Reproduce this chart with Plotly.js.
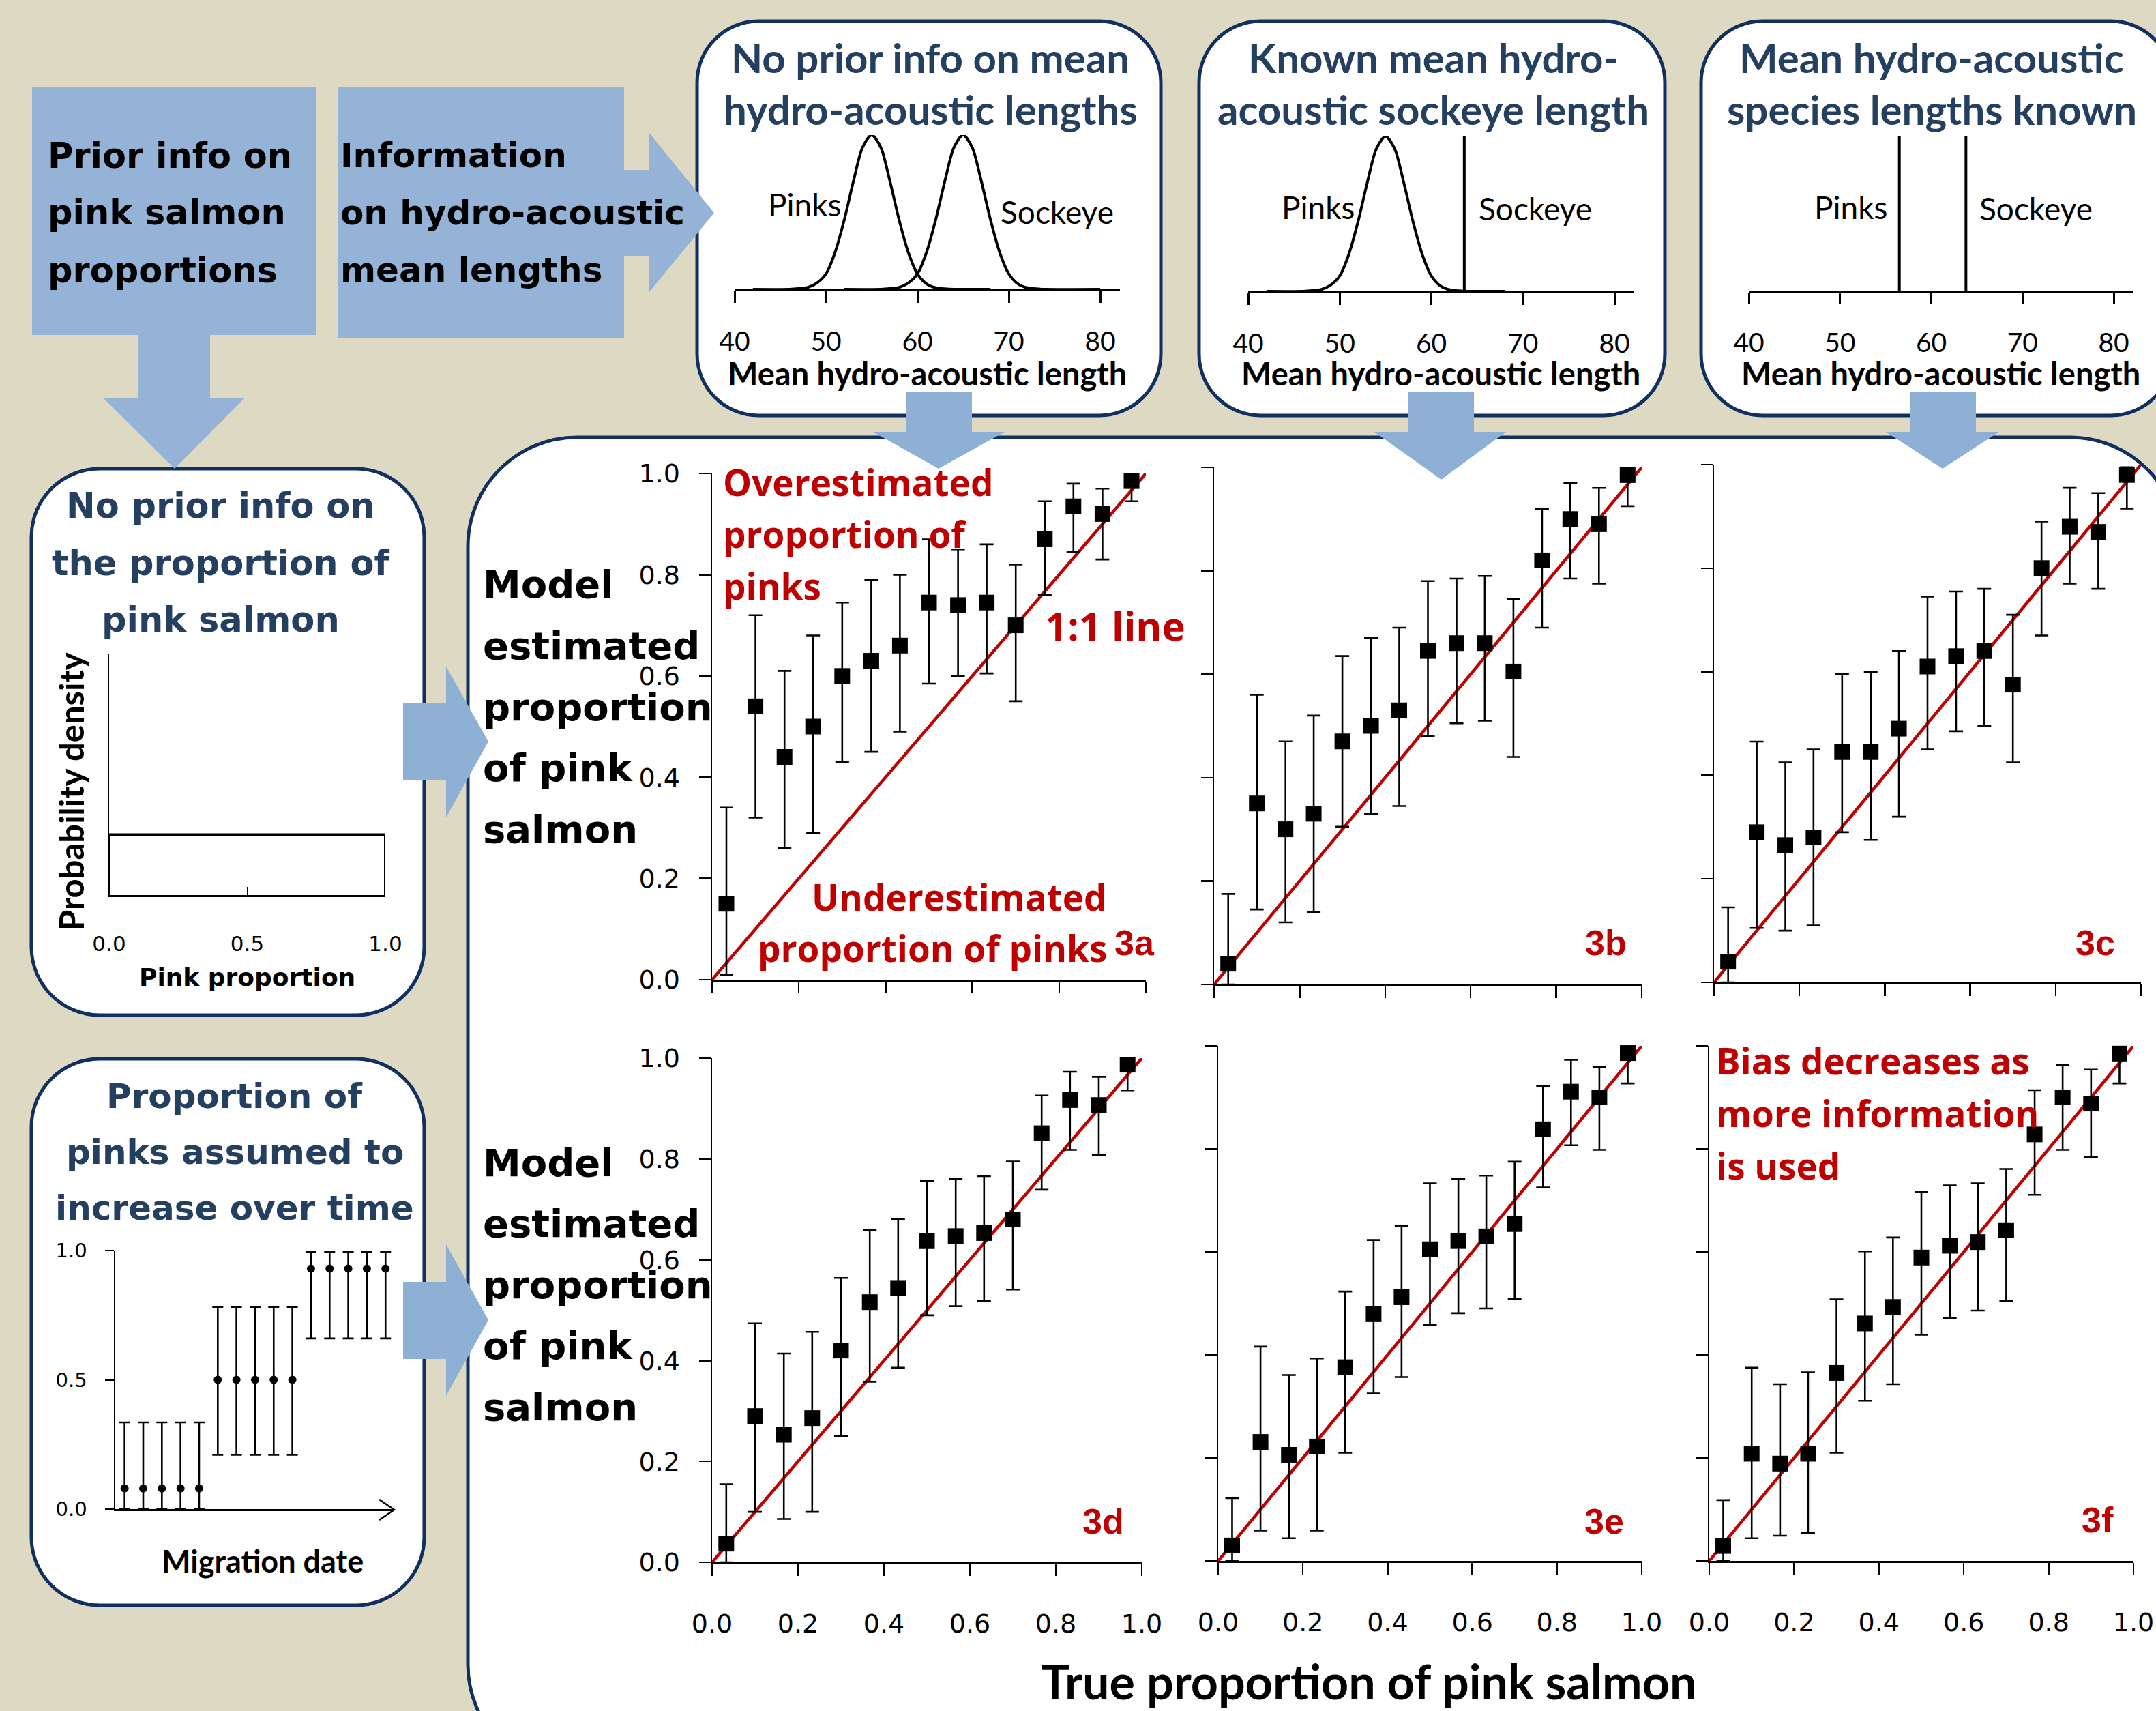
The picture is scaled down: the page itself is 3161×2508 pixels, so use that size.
<!DOCTYPE html>
<html><head><meta charset="utf-8">
<script src="https://cdn.plot.ly/plotly-3.0.1.min.js"></script>
<style>html,body{margin:0;padding:0;background:#DDD9C3;} #chart{width:3161px;height:2508px;}</style>
</head><body><div id="chart"></div>
<script>
// ---------------- DATA ----------------
const trueProp = [0.033,0.100,0.167,0.233,0.300,0.367,0.433,0.500,0.567,0.633,0.700,0.767,0.833,0.900,0.967];

const est3a = [0.15,0.54,0.44,0.50,0.60,0.63,0.66,0.745,0.74,0.745,0.70,0.87,0.935,0.92,0.985];
const hi3a  = [0.34,0.72,0.61,0.68,0.745,0.79,0.80,0.87,0.85,0.86,0.82,0.945,0.98,0.97,1.0];
const lo3a  = [0.01,0.32,0.26,0.29,0.43,0.45,0.49,0.585,0.60,0.605,0.55,0.76,0.845,0.83,0.945];

const est3b = [0.04,0.35,0.30,0.33,0.47,0.50,0.53,0.645,0.66,0.66,0.605,0.82,0.90,0.89,0.985];
const hi3b  = [0.175,0.56,0.47,0.52,0.635,0.67,0.69,0.78,0.785,0.79,0.745,0.92,0.97,0.96,1.0];
const lo3b  = [0.0,0.145,0.12,0.14,0.305,0.33,0.345,0.48,0.505,0.51,0.44,0.69,0.785,0.775,0.925];

const est3c = [0.04,0.29,0.265,0.28,0.445,0.445,0.49,0.61,0.63,0.64,0.575,0.80,0.88,0.87,0.98];
const hi3c  = [0.145,0.465,0.425,0.45,0.595,0.60,0.64,0.745,0.755,0.76,0.71,0.89,0.955,0.945,0.995];
const lo3c  = [0.0,0.105,0.10,0.11,0.29,0.275,0.32,0.45,0.485,0.495,0.425,0.67,0.77,0.76,0.915];

const est3d = [0.037,0.29,0.253,0.286,0.42,0.516,0.544,0.637,0.647,0.653,0.68,0.851,0.917,0.907,0.987];
const hi3d  = [0.155,0.474,0.414,0.457,0.564,0.659,0.681,0.757,0.761,0.766,0.795,0.926,0.973,0.963,1.0];
const lo3d  = [0.0,0.10,0.086,0.10,0.25,0.358,0.386,0.49,0.508,0.518,0.541,0.739,0.818,0.808,0.936];

const est3e = [0.03,0.231,0.206,0.222,0.376,0.479,0.512,0.605,0.621,0.63,0.654,0.838,0.911,0.90,0.986];
const hi3e  = [0.122,0.416,0.361,0.393,0.523,0.623,0.65,0.733,0.742,0.748,0.775,0.922,0.973,0.959,1.0];
const lo3e  = [0.0,0.059,0.044,0.059,0.21,0.325,0.357,0.458,0.481,0.49,0.509,0.725,0.807,0.798,0.927];

const est3f = [0.029,0.208,0.189,0.208,0.365,0.461,0.493,0.589,0.612,0.619,0.642,0.828,0.90,0.888,0.985];
const hi3f  = [0.118,0.375,0.343,0.366,0.508,0.601,0.628,0.716,0.729,0.733,0.761,0.914,0.963,0.954,1.0];
const lo3f  = [0.0,0.044,0.049,0.054,0.21,0.311,0.343,0.439,0.472,0.486,0.505,0.711,0.798,0.784,0.927];

const oneToOneX = [0, 1];
const oneToOneY = [0, 1];
const propTickVals = [0, 0.2, 0.4, 0.6, 0.8, 1.0];
const propTickText = ['0.0','0.2','0.4','0.6','0.8','1.0'];
const panelLabels = ['3a','3b','3c','3d','3e','3f'];

// mini charts: hydro-acoustic lengths
const lengthTicks = [40, 50, 60, 70, 80];
const pinkLen  = [42,46,47,48,49,50,51,52,53,54,55,56,57,58,59,60,61,62,63,64,68];
const pinkDens = [0,0,0.004,0.012,0.04,0.10,0.24,0.45,0.70,0.92,1.0,0.92,0.70,0.45,0.24,0.10,0.035,0.01,0.003,0,0];
const sockLen  = [52,56,57,58,59,60,61,62,63,64,65,66,67,68,69,70,71,72,73,74,80];
const sockDens = [0,0,0.004,0.012,0.04,0.10,0.24,0.45,0.70,0.92,1.0,0.92,0.70,0.45,0.24,0.10,0.035,0.01,0.003,0,0];
const sockKnownB = 63.6, lineTopB = 1.04;
const pinkKnownC = 56.5, sockKnownC = 63.8, lineTopC = 1.045;

// uniform prior
const uniformX = [0, 0, 1, 1];
const uniformY = [0, 1, 1, 0];
const uniformTicks = [0, 0.5, 1.0];
const uniformTickText = ['0.0','0.5','1.0'];

// migration date prior
const migDate = [1,2,3,4,5,6,7,8,9,10,11,12,13,14,15];
const migProp = [0.08,0.08,0.08,0.08,0.08,0.5,0.5,0.5,0.5,0.5,0.93,0.93,0.93,0.93,0.93];
const migHi   = [0.335,0.335,0.335,0.335,0.335,0.78,0.78,0.78,0.78,0.78,0.995,0.995,0.995,0.995,0.995];
const migLo   = [0,0,0,0,0,0.21,0.21,0.21,0.21,0.21,0.66,0.66,0.66,0.66,0.66];
const migTicks = [0, 0.5, 1.0];
const migTickText = ['0.0','0.5','1.0'];

// ---------------- HELPERS ----------------
const W = 3161, H = 2508;
const fx = p => p / W;
const fy = p => 1 - p / H;
const P = (x, y) => fx(x).toFixed(5) + ',' + fy(y).toFixed(5);
function rr(x0, y0, x1, y1, r) {
  const k = 0.5523 * r;
  return 'M' + P(x0 + r, y0) + ' L' + P(x1 - r, y0) +
    ' C' + P(x1 - r + k, y0) + ' ' + P(x1, y0 + r - k) + ' ' + P(x1, y0 + r) +
    ' L' + P(x1, y1 - r) +
    ' C' + P(x1, y1 - r + k) + ' ' + P(x1 - r + k, y1) + ' ' + P(x1 - r, y1) +
    ' L' + P(x0 + r, y1) +
    ' C' + P(x0 + r - k, y1) + ' ' + P(x0, y1 - r + k) + ' ' + P(x0, y1 - r) +
    ' L' + P(x0, y0 + r) +
    ' C' + P(x0, y0 + r - k) + ' ' + P(x0 + r - k, y0) + ' ' + P(x0 + r, y0) + ' Z';
}
function poly(pts) { return 'M' + pts.map(p => P(p[0], p[1])).join(' L') + ' Z'; }

const NAVY = '#12305F', TITLE = '#243F60', BLUE = '#95B3D7', ARROW = '#8DB0D4', RED = '#C00000';
const fV = 'DejaVu Sans', fC = 'Lato', fS = 'Open Sans', fA = 'Liberation Sans';

const layout = {
  width: W, height: H, margin: {l: 0, r: 0, t: 0, b: 0},
  paper_bgcolor: '#DDD9C3', plot_bgcolor: 'rgba(0,0,0,0)',
  showlegend: false, hovermode: false,
  shapes: [], annotations: []
};
const traces = [];
let nAx = 0;
function addAxes(xd, yd, xopt, yopt) {
  nAx++;
  const s = nAx === 1 ? '' : String(nAx);
  layout['xaxis' + s] = Object.assign({domain: [fx(xd[0]), fx(xd[1])], anchor: 'y' + s,
    showgrid: false, zeroline: false, fixedrange: true}, xopt);
  layout['yaxis' + s] = Object.assign({domain: [fy(yd[0]), fy(yd[1])], anchor: 'x' + s,
    showgrid: false, zeroline: false, fixedrange: true}, yopt);
  return {x: 'x' + s, y: 'y' + s};
}
function T(text, x, y, font, xanchor, extra) {
  return Object.assign({xref: 'paper', yref: 'paper', x: fx(x), y: fy(y), text: text,
    showarrow: false, xanchor: xanchor || 'center', yanchor: 'middle', font: font}, extra || {});
}

// ---------------- SHAPES (boxes & arrows) ----------------
const boxStyle = {type: 'path', xref: 'paper', yref: 'paper', fillcolor: 'white', line: {color: NAVY, width: 5}, layer: 'below'};
[[1022,31,1702,609,90],[1758,31,2441,609,90],[2494,31,3185,609,90],
 [46,687,622,1488,100],[46,1552,622,2353,100],[686,641,3195,2600,160]].forEach(b => {
  layout.shapes.push(Object.assign({}, boxStyle, {path: rr(b[0], b[1], b[2], b[3], b[4])}));
});
const fillStyle = (c) => ({type: 'path', xref: 'paper', yref: 'paper', fillcolor: c, line: {width: 0}, layer: 'below'});
layout.shapes.push(Object.assign(fillStyle(BLUE), {path: poly([[47,127],[463,127],[463,491],[308,491],[308,584],[358,584],[256,687],[152,584],[203,584],[203,491],[47,491]])}));
layout.shapes.push(Object.assign(fillStyle(BLUE), {path: poly([[495,127],[915,127],[915,249],[952,249],[952,195],[1047,312],[952,428],[952,375],[915,375],[915,495],[495,495]])}));
// down arrows into results
[[1328,1425,1280,1473,1376,687],[2064,2161,2015,2208,2113,703],[2800,2897,2765,2931,2848,687]].forEach(a => {
  layout.shapes.push(Object.assign(fillStyle(ARROW), {path: poly([[a[0],575],[a[1],575],[a[1],633],[a[3],633],[a[4],a[5]],[a[2],633],[a[0],633]])}));
});
// right arrows into results
[[1031,1143,977,1198,1087],[1879,1992,1824,2046,1935]].forEach(a => {
  layout.shapes.push(Object.assign(fillStyle(ARROW), {path: poly([[591,a[0]],[654,a[0]],[654,a[2]],[716,a[4]],[654,a[3]],[654,a[1]],[591,a[1]]])}));
});
// arrowhead on migration-date axis
layout.shapes.push({type: 'path', xref: 'paper', yref: 'paper', layer: 'above',
  path: 'M' + P(556, 2198) + ' L' + P(578, 2213) + ' L' + P(556, 2228), line: {color: 'black', width: 2.5}});

// ---------------- MAIN PANELS ----------------
const panels = [
  {xd: [1044, 1680], yd: [1436, 694], est: est3a, hi: hi3a, lo: lo3a, ylab: true,  xlab: false, lab: [1663, 1382]},
  {xd: [1780, 2407], yd: [1443, 685], est: est3b, hi: hi3b, lo: lo3b, ylab: false, xlab: false, lab: [2354, 1382]},
  {xd: [2513, 3139], yd: [1440, 681], est: est3c, hi: hi3c, lo: lo3c, ylab: false, xlab: false, lab: [3072, 1382]},
  {xd: [1044, 1674], yd: [2290, 1551], est: est3d, hi: hi3d, lo: lo3d, ylab: true,  xlab: true,  lab: [1617, 2230]},
  {xd: [1786, 2407], yd: [2288, 1533], est: est3e, hi: hi3e, lo: lo3e, ylab: false, xlab: true,  lab: [2352, 2230]},
  {xd: [2506, 3128], yd: [2288, 1533], est: est3f, hi: hi3f, lo: lo3f, ylab: false, xlab: true,  lab: [3075, 2228]}
];
const axBase = {range: [0, 1], showline: true, linecolor: 'black', linewidth: 2.5, ticks: 'outside',
  ticklen: 17, tickwidth: 2.5, tickcolor: 'black', tickvals: propTickVals, ticktext: propTickText,
  tickfont: {family: fV, size: 38, color: 'black'}};
panels.forEach((p, i) => {
  const ax = addAxes(p.xd, p.yd,
    Object.assign({}, axBase, {showticklabels: p.xlab, ticklabelstandoff: 38}),
    Object.assign({}, axBase, {showticklabels: p.ylab, ticklabelstandoff: 20}));
  traces.push({type: 'scatter', mode: 'lines', x: oneToOneX, y: oneToOneY, xaxis: ax.x, yaxis: ax.y,
    line: {color: RED, width: 4.5}, cliponaxis: false});
  traces.push({type: 'scatter', mode: 'markers', x: trueProp, y: p.est, xaxis: ax.x, yaxis: ax.y,
    marker: {symbol: 'square', size: 23, color: 'black'}, cliponaxis: false,
    error_y: {type: 'data', symmetric: false, array: p.hi.map((h, j) => h - p.est[j]),
      arrayminus: p.lo.map((l, j) => p.est[j] - l), color: 'black', thickness: 2.6, width: 10}});
  layout.annotations.push(T(panelLabels[i], p.lab[0], p.lab[1], {family: fA, size: 52, color: RED, weight: 700}));
});

// ---------------- TOP MINI CHARTS ----------------
const miniX = (r) => ({range: r, showline: true, linecolor: 'black', linewidth: 3, ticks: 'outside', ticklen: 17,
  tickwidth: 3, tickcolor: 'black', tickvals: lengthTicks, ticktext: lengthTicks.map(String),
  tickfont: {family: fC, size: 39, color: 'black'}, ticklabelstandoff: 23});
const miniY = {range: [0, 1], showline: false, showticklabels: false, ticks: ''};
const curveLine = {color: 'black', width: 4, shape: 'spline', smoothing: 0.8};

const mA = addAxes([1077, 1642], [424, 198], miniX([40, 82.16]), miniY);
traces.push({type: 'scatter', mode: 'lines', x: pinkLen, y: pinkDens, xaxis: mA.x, yaxis: mA.y, line: curveLine, cliponaxis: false});
traces.push({type: 'scatter', mode: 'lines', x: sockLen, y: sockDens, xaxis: mA.x, yaxis: mA.y, line: curveLine, cliponaxis: false});

const mB = addAxes([1830, 2396], [427, 200], miniX([40, 82.16]), miniY);
traces.push({type: 'scatter', mode: 'lines', x: pinkLen, y: pinkDens, xaxis: mB.x, yaxis: mB.y, line: curveLine, cliponaxis: false});
traces.push({type: 'scatter', mode: 'lines', x: [sockKnownB, sockKnownB], y: [0, lineTopB], xaxis: mB.x, yaxis: mB.y, line: {color: 'black', width: 4}, cliponaxis: false});

const mC = addAxes([2564, 3127], [426, 199], miniX([40, 82.09]), miniY);
traces.push({type: 'scatter', mode: 'lines', x: [pinkKnownC, pinkKnownC], y: [0, lineTopC], xaxis: mC.x, yaxis: mC.y, line: {color: 'black', width: 4}, cliponaxis: false});
traces.push({type: 'scatter', mode: 'lines', x: [sockKnownC, sockKnownC], y: [0, lineTopC], xaxis: mC.x, yaxis: mC.y, line: {color: 'black', width: 4}, cliponaxis: false});

// ---------------- LEFT MINI CHARTS ----------------
const mD = addAxes([160, 565], [1312, 958],
  {range: [0, 1], showline: true, linecolor: 'black', linewidth: 2.5, ticks: 'inside', ticklen: 12, tickwidth: 2,
   tickcolor: 'black', tickvals: uniformTicks, ticktext: uniformTickText, tickfont: {family: fV, size: 31, color: 'black'}, ticklabelstandoff: 42},
  {range: [0, 4], showline: true, linecolor: 'black', linewidth: 2, ticks: '', showticklabels: false});
traces.push({type: 'scatter', mode: 'lines', x: uniformX, y: uniformY, xaxis: mD.x, yaxis: mD.y, line: {color: 'black', width: 4}, cliponaxis: false});

const mE = addAxes([169, 577], [2212, 1833],
  {range: [0.5, 15.43], showline: true, linecolor: 'black', linewidth: 2.5, ticks: '', showticklabels: false},
  {range: [0, 1], showline: true, linecolor: 'black', linewidth: 2.5, ticks: 'outside', ticklen: 13, tickwidth: 2,
   tickcolor: 'black', tickvals: migTicks, ticktext: migTickText, tickfont: {family: fV, size: 29, color: 'black'}, ticklabelstandoff: 20});
traces.push({type: 'scatter', mode: 'markers', x: migDate, y: migProp, xaxis: mE.x, yaxis: mE.y, cliponaxis: false,
  marker: {symbol: 'circle', size: 12, color: 'black'},
  error_y: {type: 'data', symmetric: false, array: migHi.map((h, j) => h - migProp[j]),
    arrayminus: migLo.map((l, j) => migProp[j] - l), color: 'black', thickness: 2.6, width: 8}});

// ---------------- TEXT ----------------
const A = layout.annotations;
const boxFont = {family: fV, size: 51, color: 'black', weight: 700};
['Prior info on', 'pink salmon', 'proportions'].forEach((t, i) => A.push(T(t, 68, 228 + i * 84, boxFont, 'left')));
['Information', 'on hydro-acoustic', 'mean lengths'].forEach((t, i) => A.push(T(t, 497, 228 + i * 84, Object.assign({}, boxFont, {size: 50}), 'left')));

const topTitle = {family: fC, size: 60, color: TITLE, weight: 700};
[['No prior info on mean', 'hydro-acoustic lengths', 1364],
 ['Known mean hydro-', 'acoustic sockeye length', 2101],
 ['Mean hydro-acoustic', 'species lengths known', 2832]].forEach(b => {
  A.push(T(b[0], b[2], 84, topTitle));
  A.push(T(b[1], b[2], 160, topTitle));
});
const spFont = {family: fC, size: 46, color: 'black'};
[['Pinks', 1179, 299], ['Sockeye', 1550, 311], ['Pinks', 1932, 303], ['Sockeye', 2251, 305],
 ['Pinks', 2713, 303], ['Sockeye', 2985, 305]].forEach(s => A.push(T(s[0], s[1], s[2], spFont)));
const lenTitle = {family: fC, size: 47, color: 'black', weight: 700};
[1359, 2112, 2845].forEach(cx => A.push(T('Mean hydro-acoustic length', cx, 547, lenTitle)));

const leftTitle = {family: fV, size: 51, color: TITLE, weight: 700};
['No prior info on', 'the proportion of', 'pink salmon'].forEach((t, i) => A.push(T(t, 323, 742 + i * 83, leftTitle)));
['Proportion of', 'pinks assumed to', 'increase over time'].forEach((t, i) => A.push(T(t, 344, 1607 + i * 82, Object.assign({}, leftTitle, {size: 50}))));
A.push(T('Probability density', 104, 1160, {family: fC, size: 49, color: 'black', weight: 700}, 'center', {textangle: -90}));
A.push(T('Pink proportion', 362, 1432, {family: fV, size: 36, color: 'black', weight: 700}));
A.push(T('Migration date', 385, 2288, {family: fC, size: 45, color: 'black', weight: 700}));

const modelFont = {family: fV, size: 56, color: 'black', weight: 700};
const modelLines = ['Model', 'estimated', 'proportion', 'of pink', 'salmon'];
modelLines.forEach((t, i) => A.push(T(t, 706, 857 + i * 89.5, modelFont, 'left')));
modelLines.forEach((t, i) => A.push(T(t, 706, 1704 + i * 89.5, modelFont, 'left')));
A.push(T('True proportion of pink salmon', 2006, 2464, {family: fC, size: 70, color: 'black', weight: 700}));

const redFont = {family: fS, size: 53, color: RED, weight: 700};
['Overestimated', 'proportion of', 'pinks'].forEach((t, i) => A.push(T(t, 1058, 706 + i * 76.5, redFont, 'left')));
A.push(T('1:1 line', 1530, 917, Object.assign({}, redFont, {size: 58}), 'left'));
A.push(T('Underestimated', 1625, 1314, redFont, 'right'));
A.push(T('proportion of pinks', 1625, 1389, redFont, 'right'));
['Bias decreases as', 'more information', 'is used'].forEach((t, i) => A.push(T(t, 2514, 1554 + i * 77, redFont, 'left')));

Plotly.newPlot('chart', traces, layout, {displayModeBar: false, staticPlot: true});
</script></body></html>
